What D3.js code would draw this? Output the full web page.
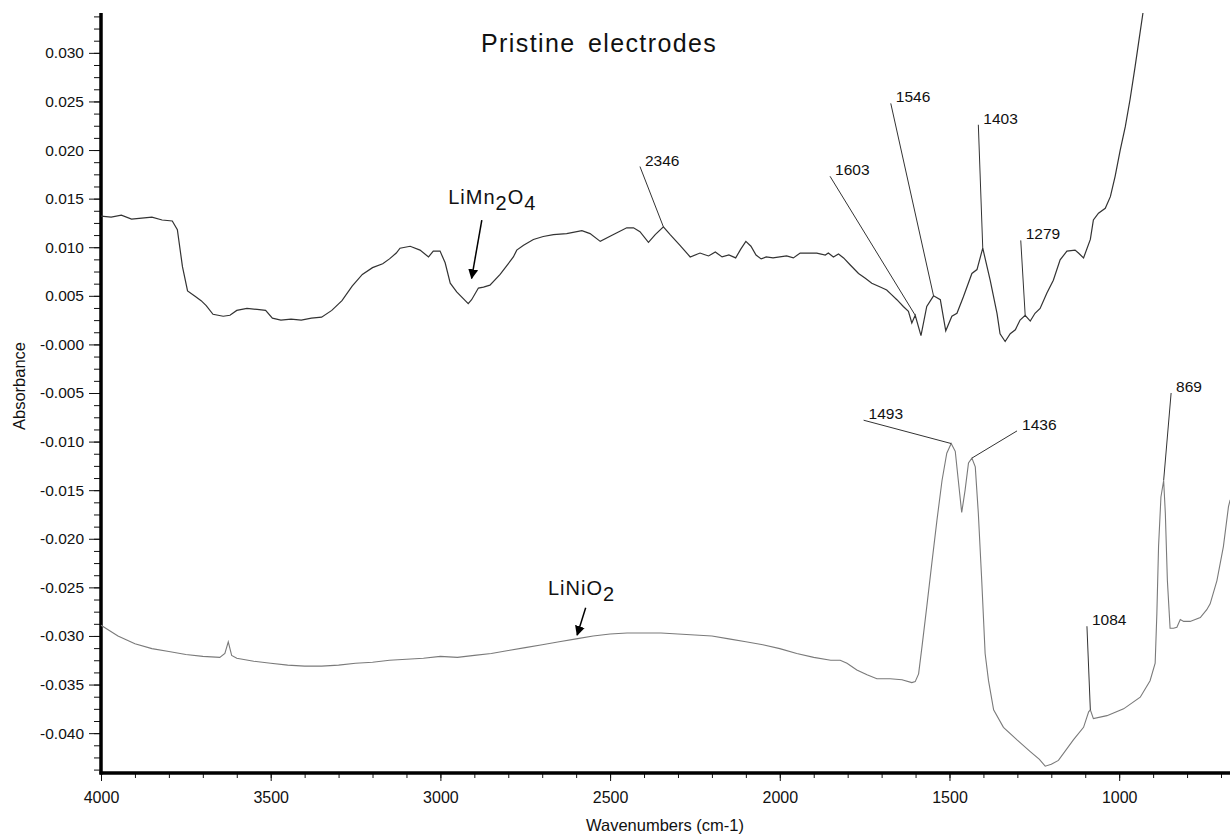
<!DOCTYPE html>
<html>
<head>
<meta charset="utf-8">
<script src="https://cdn.jsdelivr.net/npm/d3@7"></script>
<style>
  body { margin: 0; background: #fff; }
  svg { display: block; font-family: "Liberation Sans", Arial, sans-serif; }
</style>
</head>
<body>
<div class="chart"></div>
<script>
// size of the page / svg
let svg_width = 1230;
let svg_height = 835;

// LiMn2O4 spectrum (upper trace)
let mnWn = [4000, 3970, 3940, 3910, 3880, 3850, 3820, 3790, 3775, 3760, 3745, 3725, 3705, 3690, 3670, 3640, 3620, 3600, 3570, 3540,
            3515, 3495, 3470, 3440, 3410, 3380, 3350, 3320, 3290, 3260, 3230, 3200, 3170, 3150, 3130, 3119, 3089, 3060, 3035, 3021,
            3001, 2986, 2971, 2952, 2918, 2908, 2888, 2873, 2854, 2824, 2785, 2775, 2755, 2726, 2697, 2667, 2628, 2583, 2559, 2529,
            2490, 2451, 2431, 2412, 2387, 2367, 2343, 2323, 2294, 2264, 2235, 2210, 2190, 2170, 2150, 2130, 2115, 2100, 2085, 2070,
            2055, 2040, 2020, 2000, 1980, 1960, 1940, 1920, 1891, 1866, 1857, 1842, 1827, 1812, 1793, 1768, 1748, 1729, 1704, 1685,
            1670, 1655, 1636, 1621, 1611, 1601, 1584, 1567, 1547, 1527, 1511, 1493, 1478, 1459, 1434, 1419, 1402, 1380, 1360, 1351,
            1336, 1321, 1306, 1292, 1277, 1262, 1248, 1233, 1213, 1194, 1174, 1154, 1130, 1120, 1105, 1085, 1076, 1061, 1041, 1026,
            1012, 997, 982, 968, 953, 943, 930];
let mnAbs = [0.0132, 0.0131, 0.0133, 0.0129, 0.0130, 0.0131, 0.0128, 0.0127, 0.0118, 0.0080, 0.0055, 0.0050, 0.0045, 0.0040, 0.0031, 0.0029, 0.0030, 0.0035, 0.0037, 0.0036,
             0.0035, 0.0027, 0.0025, 0.0026, 0.0025, 0.0027, 0.0028, 0.0035, 0.0045, 0.0060, 0.0072, 0.0079, 0.0083, 0.0088, 0.0094, 0.0099, 0.0101, 0.0097, 0.0090, 0.0096,
             0.0096, 0.0084, 0.0063, 0.0054, 0.0042, 0.0046, 0.0058, 0.0059, 0.0061, 0.0072, 0.0090, 0.0097, 0.0102, 0.0108, 0.0111, 0.0113, 0.0114, 0.0117, 0.0114, 0.0106,
             0.0113, 0.0120, 0.0120, 0.0116, 0.0105, 0.0113, 0.0121, 0.0113, 0.0102, 0.0090, 0.0094, 0.0091, 0.0095, 0.0090, 0.0092, 0.0089, 0.0098, 0.0106, 0.0101, 0.0092,
             0.0088, 0.0090, 0.0089, 0.0090, 0.0091, 0.0089, 0.0094, 0.0094, 0.0094, 0.0092, 0.0094, 0.0090, 0.0093, 0.0089, 0.0082, 0.0073, 0.0068, 0.0063, 0.0059, 0.0056,
             0.0051, 0.0046, 0.0039, 0.0034, 0.0022, 0.0030, 0.0009, 0.0039, 0.0050, 0.0046, 0.0014, 0.0029, 0.0032, 0.0049, 0.0073, 0.0077, 0.0099, 0.0066, 0.0032, 0.0011,
             0.0003, 0.0011, 0.0015, 0.0025, 0.0030, 0.0024, 0.0032, 0.0037, 0.0053, 0.0066, 0.0087, 0.0096, 0.0097, 0.0094, 0.0089, 0.0108, 0.0128, 0.0135, 0.0140, 0.0152,
             0.0173, 0.0200, 0.0224, 0.0252, 0.0286, 0.0310, 0.0341];

// LiNiO2 spectrum (lower trace)
let niWn = [4000, 3950, 3900, 3850, 3800, 3750, 3700, 3650, 3635, 3625, 3615, 3600, 3550, 3500, 3450, 3400, 3350, 3300, 3250, 3200,
            3150, 3100, 3050, 3000, 2950, 2900, 2850, 2800, 2750, 2700, 2650, 2600, 2550, 2500, 2450, 2400, 2350, 2300, 2250, 2200,
            2150, 2100, 2050, 2000, 1950, 1900, 1850, 1822, 1802, 1773, 1743, 1714, 1675, 1640, 1611, 1601, 1591, 1581, 1567, 1552,
            1537, 1522, 1508, 1495, 1483, 1474, 1464, 1454, 1444, 1434, 1424, 1415, 1405, 1395, 1385, 1370, 1341, 1301, 1262, 1235,
            1218, 1200, 1179, 1135, 1105, 1090, 1085, 1076, 1036, 987, 938, 909, 894, 889, 884, 877, 869, 864, 858, 850,
            840, 830, 820, 810, 791, 761, 742, 732, 712, 693, 678, 673];
let niAbs = [-0.0289, -0.0300, -0.0308, -0.0313, -0.0316, -0.0319, -0.0321, -0.0322, -0.0318, -0.0306, -0.0320, -0.0323, -0.0326, -0.0328, -0.0330, -0.0331, -0.0331, -0.0330, -0.0328, -0.0327,
             -0.0325, -0.0324, -0.0323, -0.0321, -0.0322, -0.0320, -0.0318, -0.0315, -0.0312, -0.0309, -0.0306, -0.0303, -0.0300, -0.0298, -0.0297, -0.0297, -0.0297, -0.0298, -0.0299, -0.0300,
             -0.0303, -0.0306, -0.0309, -0.0313, -0.0318, -0.0322, -0.0325, -0.0325, -0.0328, -0.0335, -0.0340, -0.0344, -0.0344, -0.0345, -0.0348, -0.0347, -0.0339, -0.0311, -0.0270, -0.0225,
             -0.0181, -0.0140, -0.0112, -0.0102, -0.0110, -0.0140, -0.0173, -0.0150, -0.0122, -0.0117, -0.0126, -0.0174, -0.0243, -0.0318, -0.0346, -0.0376, -0.0394, -0.0407, -0.0419, -0.0427,
             -0.0434, -0.0432, -0.0428, -0.0407, -0.0394, -0.0378, -0.0376, -0.0385, -0.0382, -0.0375, -0.0363, -0.0346, -0.0328, -0.0277, -0.0208, -0.0157, -0.0140, -0.0174, -0.0243, -0.0292,
             -0.0292, -0.0291, -0.0283, -0.0285, -0.0285, -0.0281, -0.0273, -0.0267, -0.0243, -0.0208, -0.0167, -0.0160];

// y tick labels (the zero is printed as -0.000 in the original)
let yTickValues = [0.030, 0.025, 0.020, 0.015, 0.010, 0.005, 0, -0.005, -0.010, -0.015, -0.020, -0.025, -0.030, -0.035, -0.040];
let yTickLabels = ["0.030", "0.025", "0.020", "0.015", "0.010", "0.005", "-0.000", "-0.005", "-0.010", "-0.015", "-0.020", "-0.025", "-0.030", "-0.035", "-0.040"];
let xTickValues = [4000, 3500, 3000, 2500, 2000, 1500, 1000];

// peak labels: text, label anchor (wn, abs), peak (wn, abs)
let peakText = ["2346", "1603", "1546", "1403", "1279", "1493", "1436", "1084", "869"];
let peakLabelWn = [2412, 1852, 1673, 1415, 1290, 1753, 1301, 1095, 847];
let peakLabelAbs = [0.0183, 0.0173, 0.0248, 0.0226, 0.0107, -0.0078, -0.0089, -0.0290, -0.0050];
let peakWn = [2343, 1601, 1547, 1402, 1277, 1495, 1434, 1085, 869];
let peakAbs = [0.0121, 0.0030, 0.0050, 0.0099, 0.0030, -0.0102, -0.0117, -0.0376, -0.0140];

// sample names with arrows: label anchor, arrow start, arrow tip
let sampleName = [["LiMn", "2", "O", "4"], ["LiNiO", "2"]];
let sampleLabelWn = [2977, 2683];
let sampleLabelAbs = [0.0144, -0.0258];
let arrowFromWn = [2878, 2572];
let arrowFromAbs = [0.0128, -0.0271];
let arrowToWn = [2908, 2597];
let arrowToAbs = [0.0068, -0.0299];

// scales
let x_scale = d3.scaleLinear()
                .domain([4000, 673.5])
                .range([101, 1230]);

let y_scale = d3.scaleLinear()
                .domain([-0.0441, 0.0341])
                .range([773, 13]);

let svg = d3.select('.chart')
            .append('svg')
            .attr('width', svg_width)
            .attr('height', svg_height);

svg.append('rect')
   .attr('width', svg_width)
   .attr('height', svg_height)
   .attr('fill', '#fff');

// ================================================
// axes

// y axis: major ticks with labels, then minor ticks
let yAxis = d3.axisLeft(y_scale)
              .tickValues(yTickValues)
              .tickSize(12)
              .tickPadding(5)
              .tickFormat(function(d, i) { return yTickLabels[i]; });

let yAxisG = svg.append('g')
                .attr('transform', 'translate(101,0)')
                .call(yAxis);
yAxisG.select('.domain').remove();
yAxisG.selectAll('text').attr('font-size', 15.5).attr('fill', '#111').attr('font-family', 'Liberation Sans, Arial, sans-serif');
yAxisG.selectAll('line').attr('stroke', '#111');

let yMinor = d3.range(-0.04375, 0.0341, 0.00125);
svg.append('g')
   .attr('transform', 'translate(101,0)')
   .call(d3.axisLeft(y_scale).tickValues(yMinor).tickSize(7).tickFormat(''))
   .call(function(g) { g.select('.domain').remove(); g.selectAll('line').attr('stroke', '#111'); });

// x axis
let xAxis = d3.axisBottom(x_scale)
              .tickValues(xTickValues)
              .tickSize(8)
              .tickPadding(11)
              .tickFormat(d3.format('d'));

let xAxisG = svg.append('g')
                .attr('transform', 'translate(0,773)')
                .call(xAxis);
xAxisG.select('.domain').remove();
xAxisG.selectAll('text').attr('font-size', 16).attr('fill', '#111').attr('font-family', 'Liberation Sans, Arial, sans-serif');
xAxisG.selectAll('line').attr('stroke', '#111');

let xMinor = d3.range(4000, 673, -100);
svg.append('g')
   .attr('transform', 'translate(0,773)')
   .call(d3.axisBottom(x_scale).tickValues(xMinor).tickSize(5).tickFormat(''))
   .call(function(g) { g.select('.domain').remove(); g.selectAll('line').attr('stroke', '#111'); });

// thick axis lines
svg.append('line')
   .attr('x1', x_scale(4000)).attr('x2', x_scale(4000))
   .attr('y1', y_scale(0.0341)).attr('y2', y_scale(-0.0441) + 1.5)
   .attr('stroke', '#000').attr('stroke-width', 3.5);
svg.append('line')
   .attr('x1', x_scale(4000) - 1.5).attr('x2', svg_width)
   .attr('y1', y_scale(-0.0441)).attr('y2', y_scale(-0.0441))
   .attr('stroke', '#000').attr('stroke-width', 3.5);

// axis titles
svg.append('text')
   .attr('x', 665)
   .attr('y', 831)
   .attr('text-anchor', 'middle')
   .attr('font-size', 16.5)
   .attr('fill', '#111')
   .text('Wavenumbers (cm-1)');

svg.append('text')
   .attr('transform', 'translate(25,386) rotate(-90)')
   .attr('text-anchor', 'middle')
   .attr('font-size', 16.5)
   .attr('fill', '#111')
   .text('Absorbance');

// title
svg.append('text')
   .attr('x', 481)
   .attr('y', 52)
   .attr('font-size', 25)
   .attr('letter-spacing', 1.4)
   .attr('word-spacing', 4)
   .attr('fill', '#111')
   .text('Pristine electrodes');

// ================================================
// spectra

let line = d3.line()
             .x(function(d) { return x_scale(d[0]); })
             .y(function(d) { return y_scale(d[1]); });

let mnData = mnWn.map(function(w, i) { return [w, mnAbs[i]]; });
let niData = niWn.map(function(w, i) { return [w, niAbs[i]]; });

svg.append('path')
   .datum(niData)
   .attr('d', line)
   .attr('fill', 'none')
   .attr('stroke', '#7a7a7a')
   .attr('stroke-width', 1.1);

svg.append('path')
   .datum(mnData)
   .attr('d', line)
   .attr('fill', 'none')
   .attr('stroke', '#333')
   .attr('stroke-width', 1.2);

// ================================================
// peak labels with leader lines

let peaks = svg.append('g');
peakText.forEach(function(t, i) {
    let lx = x_scale(peakLabelWn[i]);
    let ly = y_scale(peakLabelAbs[i]);
    peaks.append('line')
         .attr('x1', lx).attr('y1', ly)
         .attr('x2', x_scale(peakWn[i])).attr('y2', y_scale(peakAbs[i]))
         .attr('stroke', '#333')
         .attr('stroke-width', 1);
    peaks.append('text')
         .attr('x', lx + 5)
         .attr('y', ly - 1)
         .attr('font-size', 15.5)
         .attr('fill', '#111')
         .text(t);
});

// sample labels + arrows
svg.append('defs')
   .append('marker')
   .attr('id', 'head')
   .attr('viewBox', '0 0 10 10')
   .attr('refX', 9).attr('refY', 5)
   .attr('markerWidth', 10).attr('markerHeight', 12)
   .attr('markerUnits', 'userSpaceOnUse')
   .attr('orient', 'auto')
   .append('path')
   .attr('d', 'M0,0 L10,5 L0,10 z')
   .attr('fill', '#000');

sampleName.forEach(function(parts, i) {
    let txt = svg.append('text')
                 .attr('x', x_scale(sampleLabelWn[i]))
                 .attr('y', y_scale(sampleLabelAbs[i]))
                 .attr('font-size', 20)
                 .attr('letter-spacing', 1)
                 .attr('fill', '#111');
    parts.forEach(function(p, k) {
        let sub = k % 2 === 1;
        txt.append('tspan')
           .attr('dy', sub ? 6 : (k > 0 ? -6 : 0))
           .attr('font-size', 20)
           .text(p);
    });
    svg.append('line')
       .attr('x1', x_scale(arrowFromWn[i])).attr('y1', y_scale(arrowFromAbs[i]))
       .attr('x2', x_scale(arrowToWn[i])).attr('y2', y_scale(arrowToAbs[i]))
       .attr('stroke', '#000')
       .attr('stroke-width', 1.5)
       .attr('marker-end', 'url(#head)');
});
</script>
</body>
</html>
